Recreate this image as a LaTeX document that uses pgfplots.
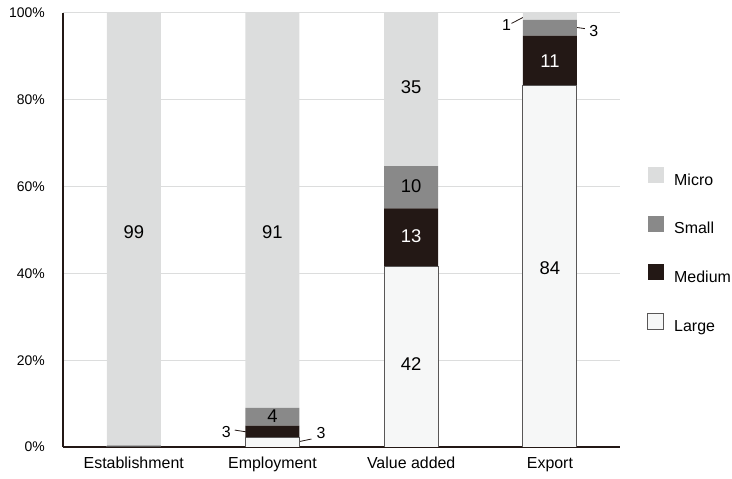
\documentclass[border=0pt]{standalone}
\usepackage{pgfplots}
\pgfplotsset{compat=1.18}
\usepackage{fontspec}
\setmainfont{Liberation Sans}
\definecolor{cmicro}{HTML}{DCDDDD}
\definecolor{csmall}{HTML}{898989}
\definecolor{cmedium}{HTML}{231815}
\definecolor{clarge}{HTML}{F6F7F7}
\definecolor{clargeb}{HTML}{595757}
\definecolor{gridc}{HTML}{DCDDDD}
\definecolor{axisc}{HTML}{231815}
\pgfplotsset{
  callline/.style={forget plot, stack plots=false, sharp plot, mark=none, draw=axisc, line width=0.8bp},
}
\tikzset{
  barlab/.style={font=\fontsize{18.5}{20}\selectfont, inner sep=0pt},
  calllab/.style={font=\fontsize{16}{18}\selectfont, inner sep=0pt},
}
\begin{document}
\begin{tikzpicture}
\useasboundingbox (-63bp,-32bp) rectangle (669bp,447bp);
\begin{axis}[
  scale only axis, width=557bp, height=434bp,
  xmin=-0.51, xmax=3.505, ymin=0, ymax=100,
  ybar stacked, bar width=54bp,
  legend image code/.code={\path[#1] (0bp,-2bp) rectangle (16bp,14bp);},
  axis lines*=left,
  axis line style={-, draw=axisc, line width=2bp},
  ymajorgrids, grid style={draw=gridc, line width=1bp},
  major tick length=0pt,
  xtick=data,
  xticklabels={Establishment,Employment,Value added,Export},
  ytick={0,20,40,60,80,100},
  yticklabel={\pgfmathprintnumber{\tick}\%},
  yticklabel style={font=\fontsize{14}{16}\selectfont, inner sep=0pt, anchor=east, xshift=-18bp},
  xticklabel style={font=\fontsize{16}{18}\selectfont, inner sep=0pt, anchor=north, yshift=-10bp},
  /pgf/number format/assume math mode=true,
  reverse legend,
  legend style={at={(1.0485,0.645)}, anchor=north west, draw=none, fill=none, inner sep=0pt,
    row sep=26.5bp, column sep=10bp, font=\fontsize{16}{18}\selectfont,
    nodes={inner sep=0pt, text height=12bp, text depth=4bp}},
  legend cell align=left,
]
\addplot[fill=clarge, draw=clargeb, line width=1bp, legend image post style={fill=clarge, draw=clargeb, line width=1bp}] coordinates {(0,0.1) (1,2.2) (2,41.6) (3,83.4)};
\addplot[fill=cmedium, draw=none, legend image post style={fill=cmedium, draw=none}] coordinates {(0,0.1) (1,2.7) (2,13.4) (3,11.4)};
\addplot[fill=csmall, draw=none, legend image post style={fill=csmall, draw=none}] coordinates {(0,0.2) (1,4.1) (2,9.7) (3,3.6)};
\addplot[fill=cmicro, draw=none, legend image post style={fill=cmicro, draw=none}] coordinates {(0,99.6) (1,91.0) (2,35.3) (3,1.6)};
\legend{Large,Medium,Small,Micro}
\addplot[callline] coordinates {(0.728,3.9) (0.808,3.5)};
\addplot[callline] coordinates {(1.168,1.08) (1.281,1.84)};
\addplot[callline] coordinates {(2.723,97.6) (2.831,99.4)};
\addplot[callline] coordinates {(3.12,97.0) (3.252,96.4)};
\draw[axisc, line width=2bp] (rel axis cs:0,0) -- (rel axis cs:1,0);
\coordinate (L99) at (axis cs:0,49.6);
\coordinate (L91) at (axis cs:1,49.6);
\coordinate (L4) at (axis cs:1,7.0);
\coordinate (L35) at (axis cs:2,82.9);
\coordinate (L10) at (axis cs:2,60.0);
\coordinate (L13) at (axis cs:2,48.6);
\coordinate (L42) at (axis cs:2,19.2);
\coordinate (L11) at (axis cs:3,88.9);
\coordinate (L84) at (axis cs:3,41.2);
\coordinate (C3a) at (axis cs:0.668,3.5);
\coordinate (C3b) at (axis cs:1.351,3.3);
\coordinate (C1) at (axis cs:2.687,97.2);
\coordinate (C3c) at (axis cs:3.317,95.8);
\end{axis}
\node[barlab] at (L99) {99};
\node[barlab] at (L91) {91};
\node[barlab] at (L4) {4};
\node[barlab] at (L35) {35};
\node[barlab] at (L10) {10};
\node[barlab,text=white] at (L13) {13};
\node[barlab] at (L42) {42};
\node[barlab,text=white] at (L11) {11};
\node[barlab] at (L84) {84};
\node[calllab] at (C3a) {3};
\node[calllab] at (C3b) {3};
\node[calllab] at (C1) {1};
\node[calllab] at (C3c) {3};
\end{tikzpicture}
\end{document}
